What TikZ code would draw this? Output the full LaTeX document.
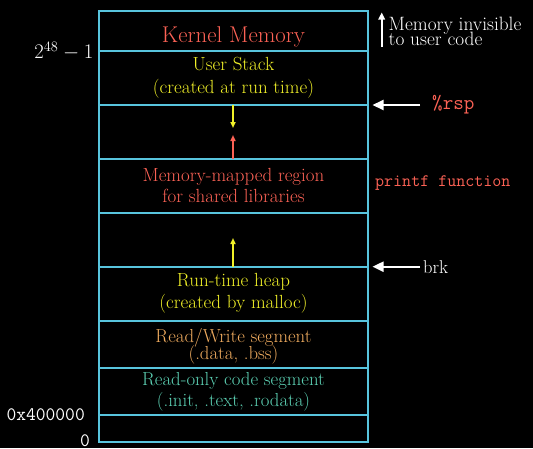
\documentclass[tikz,border=0pt]{standalone}
\usetikzlibrary{arrows.meta}
\definecolor{mblue}{HTML}{58C4DD}
\definecolor{mred}{HTML}{FC6255}
\definecolor{myellow}{HTML}{F0F028}
\definecolor{mgold}{HTML}{F0AC5F}
\definecolor{mteal}{HTML}{5CD0B3}
\tikzset{
  seg/.style={draw=mblue, line width=2.3pt},
  lbl/.style={inner sep=0pt, align=center},
  warrow/.style={draw=white, line width=2pt, -{Triangle[length=11pt,width=10pt]}},
  wsmall/.style={draw=white, line width=1.6pt, -{Triangle[length=7pt,width=6.5pt]}},
  inarrow/.style={line width=1.6pt, -{Triangle[length=6pt,width=5pt]}},
}
\newcommand{\fsz}[2]{\fontsize{#1}{#2}\selectfont\lineskiplimit=-20pt\relax}
\begin{document}
\begin{tikzpicture}[x=1pt,y=-1pt]
\fill[black] (0,0) rectangle (533,448);
\useasboundingbox (0,0) rectangle (533,448);

% segment boundaries
\draw[seg] (99,10.7) rectangle (368,442);
\foreach \yy in {51,105,159.3,213.3,266.7,320.7,367.7,415}{
  \draw[seg] (99,\yy) -- (368,\yy);
}

% texts inside
\node[lbl, text=mred, font={\fsz{22.8}{26}}] (kernel) at (233.5,36.5) {Kernel Memory};
\node[lbl, text=myellow, font={\fsz{19}{23}}] (stack) at (233.5,77.5) {User Stack\\(created at run time)};
\node[lbl, text=mred, font={\fsz{19}{21}}] (mmap) at (233.5,185.5) {Memory-mapped region\\for shared libraries};
\node[lbl, text=myellow, font={\fsz{19}{22}}] (heap) at (233.5,293) {Run-time heap\\(created by malloc)};
\node[lbl, text=mgold, font={\fsz{18.8}{17}}] (rw) at (233.5,346.5) {Read/Write segment\\(.data, .bss)};
\node[lbl, text=mteal, font={\fsz{18.8}{21}}] (ro) at (233.5,391.5) {Read-only code segment\\(.init, .text, .rodata)};

% inner arrows
\coordinate (stackbot) at (233,105);
\coordinate (stacktip) at (233,128);
\coordinate (mmaptop) at (233,159.3);
\coordinate (mmaptip) at (233,135);
\coordinate (heaptop) at (233,266.7);
\coordinate (heaptip) at (233,238);
\draw[inarrow, draw=myellow] (stackbot) -- (stacktip);
\draw[inarrow, draw=mred] (mmaptop) -- (mmaptip);
\draw[inarrow, draw=myellow] (heaptop) -- (heaptip);

% left labels
\node[lbl, text=white, anchor=east, font={\fsz{20.5}{24}}] (top) at (93.5,51) {$2^{48}-1$};
\node[lbl, text=white, anchor=east, font={\fsz{19}{22}\ttfamily}] (code) at (85,415) {0x400000};
\node[lbl, text=white, anchor=east, font={\fsz{19}{22}\ttfamily}] (zero) at (90,441) {0};

% right labels
\node[lbl, text=white, anchor=west, align=left, font={\fsz{19.3}{15.5}}] (invis) at (388.5,31.5) {Memory invisible\\to user code};
\coordinate (invtail) at (381.7,47);
\coordinate (invtip) at (381.7,12.5);
\draw[wsmall] (invtail) -- (invtip);

\node[lbl, text=mred, anchor=west, font={\fsz{20.5}{24}\ttfamily}] (rsp) at (432,105) {\%rsp};
\coordinate (rspmark) at (372.5,105);
\draw[warrow] (rspmark -| rsp.west) ++(-12,0) -- (rspmark);

\node[lbl, text=mred, anchor=west, font={\fsz{17.5}{21}\ttfamily}] (printf) at (375,183) {printf function};

\node[lbl, text=white, anchor=west, font={\fsz{18.5}{20}}] (brk) at (423,267.5) {brk};
\coordinate (brkmark) at (372.5,266.7);
\draw[warrow] (brkmark -| brk.west) ++(-3,0) -- (brkmark);
\end{tikzpicture}
\end{document}
